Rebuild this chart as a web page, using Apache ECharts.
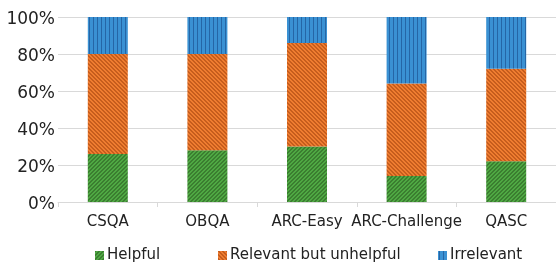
<!DOCTYPE html>
<html><head><meta charset="utf-8">
<script src="https://cdn.jsdelivr.net/npm/echarts@6/dist/echarts.min.js"></script>
<style>html,body{margin:0;padding:0;background:#fff}#c{width:556px;height:262px}</style>
</head><body><div id="c"></div>
<script>
const categories = ['CSQA', 'OBQA', 'ARC-Easy', 'ARC-Challenge', 'QASC'];
const helpful = [26, 28, 30, 14, 22];
const relevantUnhelpful = [54, 52, 56, 50, 50];
const irrelevant = [20, 20, 14, 36, 28];
const yTicks = [0, 20, 40, 60, 80, 100];
const seriesNames = ['Helpful', 'Relevant but unhelpful', 'Irrelevant'];

function pattern(base, stripe, kind) {
  const s = 4;
  const c = document.createElement('canvas');
  c.width = s; c.height = s;
  const g = c.getContext('2d');
  g.fillStyle = base; g.fillRect(0, 0, s, s);
  g.fillStyle = stripe;
  for (let y = 0; y < s; y++) {
    let x;
    if (kind === 'up') x = (s - 1 - y) % s;
    else if (kind === 'down') x = y % s;
    else x = 1;
    g.fillRect(x, y, 1, 1);
    if (kind !== 'v') g.fillRect((x + 1) % s, y, 1, 1);
  }
  return { image: c, repeat: 'repeat' };
}
const colors = [
  pattern('#4fa843', '#3b7e30', 'up'),
  pattern('#ef7d31', '#c65d1d', 'down'),
  pattern('#3a91d3', '#2566a6', 'v')
];
const dataArr = [helpful, relevantUnhelpful, irrelevant];

const chart = echarts.init(document.getElementById('c'), null, { renderer: 'canvas' });
const legendLeft = [90, 213, 433];
chart.setOption({
  animation: false,
  grid: { left: 58, width: 501, top: 17, height: 185 },
  xAxis: {
    type: 'category', data: categories,
    axisLine: { lineStyle: { color: '#d9d9d9' } },
    axisTick: { show: true, alignWithLabel: false, length: 5, lineStyle: { color: '#d9d9d9' } },
    axisLabel: { interval: 0, color: '#222', fontFamily: 'DejaVu Sans', fontSize: 15, margin: 13 }
  },
  yAxis: {
    type: 'value', min: 0, max: 100, interval: 20,
    axisLine: { show: false }, axisTick: { show: false },
    splitLine: { lineStyle: { color: '#d9d9d9' } },
    axisLabel: { color: '#222', fontFamily: 'DejaVu Sans', fontSize: 17, margin: 3,
      formatter: v => yTicks.includes(v) ? '{a|' + v + '%}' : '',
      rich: { a: { fontFamily: 'DejaVu Sans', fontSize: 17, color: '#222', padding: [5, 0, 0, 0] } } }
  },
  legend: seriesNames.map((n, i) => ({
    data: [n], left: legendLeft[i], top: 243, itemWidth: 9, itemHeight: 9, icon: 'rect',
    textStyle: { fontFamily: 'DejaVu Sans', fontSize: 15, color: '#222', padding: [0, 0, 0, -2] }
  })),
  series: seriesNames.map((n, i) => ({
    name: n, type: 'bar', stack: 'total', barWidth: 40,
    data: dataArr[i],
    itemStyle: { color: colors[i] }
  }))
});
</script></body></html>
